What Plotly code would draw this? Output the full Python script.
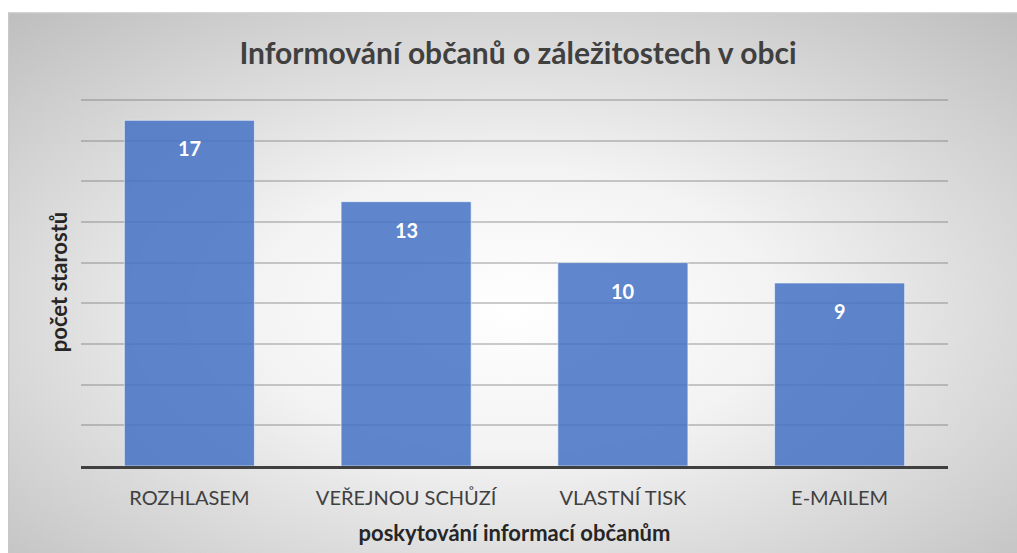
import base64
import plotly.graph_objects as go

categories = ["ROZHLASEM", "VEŘEJNOU SCHŮZÍ", "VLASTNÍ TISK", "E-MAILEM"]
values = [17, 13, 10, 9]
title_text = "Informování občanů o záležitostech v obci"
x_title = "poskytování informací občanům"
y_title = "počet starostů"

W, H = 1017, 553
YMAX = 18.1
ml = 81
pw = 867
ph = round(366 * YMAX / 18)
mt = 466 - ph
mr = W - ml - pw
mb = H - mt - ph

bw, bh = 1009, 541
svg = (
    '<svg xmlns="http://www.w3.org/2000/svg" width="%d" height="%d" preserveAspectRatio="none">'
    '<defs><radialGradient id="g" cx="50%%" cy="55%%" r="75%%" fx="50%%" fy="55%%">'
    '<stop offset="0%%" stop-color="#ffffff"/>'
    '<stop offset="35%%" stop-color="#f3f3f3"/>'
    '<stop offset="100%%" stop-color="#bdbdbd"/>'
    '</radialGradient></defs>'
    '<rect x="0" y="0" width="%d" height="%d" fill="url(#g)"/>'
    '<line x1="0" y1="0.5" x2="%d" y2="0.5" stroke="#d4d4d4" stroke-width="1.5"/>'
    '<line x1="0.5" y1="0" x2="0.5" y2="%d" stroke="#c8c8c8" stroke-width="1.5"/>'
    '</svg>'
) % (bw, bh, bw, bh, bw, bh)
src = "data:image/svg+xml;base64," + base64.b64encode(svg.encode()).decode()

box_x0, box_y0 = 8, 12

fig = go.Figure(
    go.Bar(
        x=categories,
        y=values,
        marker=dict(color="rgba(68,114,196,0.85)", line=dict(color="rgba(255,255,255,0.55)", width=1)),
        width=0.6,
        hoverinfo="skip",
    )
)

for c, v in zip(categories, values):
    fig.add_annotation(
        x=c, y=v, text="<b>%d</b>" % v, showarrow=False, yshift=-28, yanchor="middle",
        font=dict(family="Lato", size=20, color="white"),
    )

fig.update_layout(
    width=W,
    height=H,
    margin=dict(l=ml, r=mr, t=mt, b=mb, pad=0),
    paper_bgcolor="white",
    plot_bgcolor="rgba(0,0,0,0)",
    showlegend=False,
    title=dict(
        text="<b>" + title_text + "</b>",
        x=518 / W,
        xanchor="center",
        y=1 - 53 / H,
        yanchor="middle",
        font=dict(family="Lato", size=30, color="#404040"),
    ),
    images=[
        dict(
            source=src,
            xref="paper",
            yref="paper",
            x=(box_x0 - ml) / pw,
            y=(H - mb - box_y0) / ph,
            sizex=bw / pw,
            sizey=bh / ph,
            xanchor="left",
            yanchor="top",
            sizing="stretch",
            layer="below",
        )
    ],
    xaxis=dict(
        showgrid=False,
        showline=True,
        linecolor="#404040",
        linewidth=3,
        ticks="",
        ticklabelstandoff=12,
        tickfont=dict(family="Lato", size=20, color="#404040"),
        title=dict(text="<b>" + x_title + "</b>", font=dict(family="Lato", size=22, color="#262626"), standoff=18),
    ),
    yaxis=dict(
        range=[0, YMAX],
        dtick=2,
        showticklabels=False,
        showgrid=True,
        gridcolor="rgba(110,110,110,0.35)",
        gridwidth=2,
        zeroline=False,
        ticks="",
        title=dict(text="<b>" + y_title + "</b>", font=dict(family="Lato", size=22, color="#262626"), standoff=6),
    ),
    bargap=0.4,
)

fig.write_html(
    "out.html",
    config={"displayModeBar": False},
    post_script="document.body.style.margin='0';document.documentElement.style.overflow='hidden';document.body.style.overflow='hidden';",
)
